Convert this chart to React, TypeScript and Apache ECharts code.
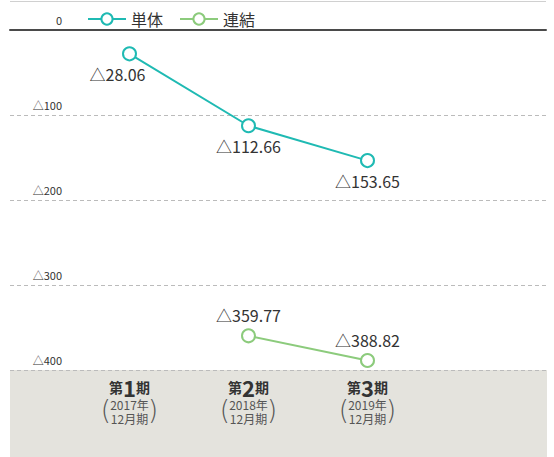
import React, { useEffect, useRef } from "react";
import * as echarts from "echarts";

const periodNums = ["1", "2", "3"];
const years = ["2017年", "2018年", "2019年"];
const monthLabel = "12月期";
const seriesNames = ["単体", "連結"];
const tantai = [-28.06, -112.66, -153.65];
const renketsu: (number | null)[] = [null, -359.77, -388.82];
const yTicks = { min: -400, max: 0, interval: 100 };

const FONT = "'Noto Sans CJK JP', sans-serif";
const TEAL = "#1fbab3";
const GREEN = "#8ccb7c";

export default function App() {
  const ref = useRef<HTMLDivElement>(null);
  useEffect(() => {
    if (!ref.current) return;
    const chart = echarts.init(ref.current, null, { renderer: "svg" });
    const categories = periodNums.map((n) => `第${n}期`);
    const labelFmt = (p: any) => "△" + Math.abs(p.value as number).toFixed(2);
    chart.setOption({
      animation: false,
      textStyle: { fontFamily: FONT },
      legend: {
        left: 82,
        top: 6,
        itemWidth: 38,
        itemHeight: 14,
        itemGap: 16,
        textStyle: { fontSize: 16, color: "#333", fontFamily: FONT },
        data: seriesNames,
      },
      grid: [
        { left: 70, right: 127, top: 30, bottom: 87 },
        { left: 10, right: 8, top: 30, bottom: 87 },
      ],
      xAxis: [
        {
          type: "category",
          gridIndex: 0,
          data: categories,
          boundaryGap: true,
          axisLine: { show: false },
          axisTick: { show: false },
          axisLabel: {
            margin: 7,
            align: "center",
            formatter: (v: string, i: number) =>
              `{a|第}{b|${periodNums[i]}}{a|期}\n{c|${years[i]}}\n{c|${monthLabel}}`,
            rich: {
              a: { fontSize: 14, fontWeight: "bold", color: "#333", lineHeight: 20, fontFamily: FONT },
              b: { fontSize: 22, fontWeight: "bold", color: "#333", lineHeight: 20, fontFamily: FONT },
              c: { fontSize: 12, color: "#555", lineHeight: 14, fontFamily: FONT },
            },
          },
        },
        {
          type: "value",
          gridIndex: 1,
          position: "top",
          min: 0,
          max: 1,
          axisLine: { show: true, lineStyle: { color: "#4a4a4a", width: 2 } },
          axisTick: { show: false },
          axisLabel: { show: false },
          splitLine: { show: false },
        },
        {
          type: "category",
          gridIndex: 0,
          data: categories,
          position: "bottom",
          boundaryGap: true,
          axisLine: { show: false },
          axisTick: { show: false },
          splitLine: { show: false },
          axisLabel: {
            margin: 27,
            formatter: () => "{p|(}{s| }{p|)}",
            rich: {
              p: { fontSize: 26, color: "#555", fontWeight: "lighter", lineHeight: 26, fontFamily: "'DejaVu Sans', sans-serif" },
              s: { width: 37, fontSize: 12 },
            },
          },
        },
      ],
      yAxis: [
        {
          type: "value",
          gridIndex: 0,
          min: yTicks.min,
          max: yTicks.max,
          interval: yTicks.interval,
          show: false,
        },
        {
          type: "value",
          gridIndex: 1,
          min: yTicks.min,
          max: yTicks.max,
          interval: yTicks.interval,
          axisLine: { show: false },
          axisTick: { show: false },
          splitLine: { show: true, lineStyle: { color: "#bbbbbb", type: [4, 3], width: 1 } },
          axisLabel: {
            margin: -52,
            align: "right",
            verticalAlign: "bottom",
            padding: [0, 0, 5, 0],
            fontSize: 11,
            color: "#333",
            fontFamily: FONT,
            formatter: (v: number) => (v === 0 ? "0" : "△" + Math.abs(v)),
          },
        },
      ],
      graphic: [
        {
          type: "rect",
          z: -10,
          shape: { x: 10, y: 370, width: 537, height: 87 },
          style: { fill: "#e4e3dd" },
          silent: true,
        },
        {
          type: "line",
          z: -10,
          shape: { x1: 10, y1: 1.5, x2: 546, y2: 1.5 },
          style: { stroke: "#d0d0d0", lineWidth: 1 },
          silent: true,
        },
      ],
      series: [
        {
          name: seriesNames[0],
          type: "line",
          xAxisIndex: 0,
          yAxisIndex: 0,
          data: tantai.map((v, i) => (i === 0 ? { value: v, label: { offset: [-12, 0] } } : v)),
          symbol: "emptyCircle",
          symbolSize: 13,
          itemStyle: { color: TEAL, borderWidth: 2 },
          lineStyle: { color: TEAL, width: 2 },
          label: {
            show: true,
            position: "bottom",
            distance: 5,
            fontSize: 16,
            color: "#333",
            fontFamily: FONT,
            formatter: labelFmt,
          },
        },
        {
          name: seriesNames[1],
          type: "line",
          xAxisIndex: 0,
          yAxisIndex: 0,
          data: renketsu,
          symbol: "emptyCircle",
          symbolSize: 13,
          itemStyle: { color: GREEN, borderWidth: 2 },
          lineStyle: { color: GREEN, width: 2 },
          label: {
            show: true,
            position: "top",
            distance: 5,
            fontSize: 16,
            color: "#333",
            fontFamily: FONT,
            formatter: labelFmt,
          },
        },
      ],
    });
    return () => chart.dispose();
  }, []);
  return (
    <div
      ref={ref}
      style={{ position: "fixed", left: 0, top: 0, width: 554, height: 457, background: "#fff" }}
    />
  );
}
